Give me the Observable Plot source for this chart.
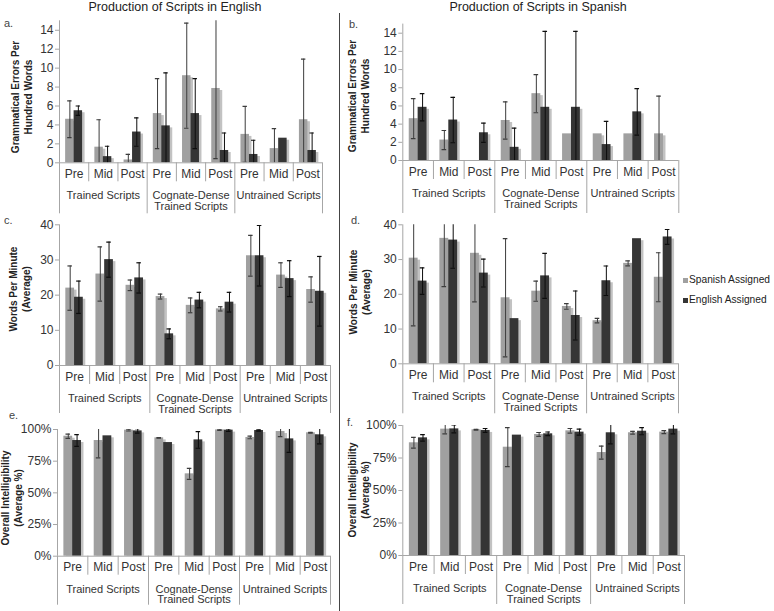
<!DOCTYPE html>
<html>
<head>
<meta charset="utf-8">
<script src="https://cdn.jsdelivr.net/npm/d3@7"></script>
<script src="https://cdn.jsdelivr.net/npm/@observablehq/plot@0.6"></script>
<style>
  html, body { margin: 0; padding: 0; background: #fff; }
  #root { position: relative; width: 774px; height: 611px; overflow: hidden;
          font-family: "Liberation Sans", Arial, sans-serif; color: #333; }
  .pan { position: absolute; }
  .ytitle { position: absolute; font-weight: bold; font-size: 10px; line-height: 13px;
            text-align: center; white-space: nowrap; color: #222;
            transform: translate(-50%, -50%) rotate(-90deg); }
  .title { position: absolute; font-size: 12.5px; color: #222; white-space: nowrap;
           transform: translate(-50%, -50%); }
  .letter { position: absolute; font-size: 11px; color: #444; }
  .leg { position: absolute; font-size: 10.2px; color: #222; white-space: nowrap; }
  .sw { position: absolute; width: 5px; height: 5px; }
  .divider { position: absolute; left: 339px; top: 13px; width: 1px; height: 598px; background: #444; }
</style>
</head>
<body>
<div id="root"></div>
<script>
// ---------- data ----------
const categories = ["Pre", "Mid", "Post", "Pre", "Mid", "Post", "Pre", "Mid", "Post"];
const groups = ["Trained Scripts", "Cognate-Dense\nTrained Scripts", "Untrained Scripts"];
const series = ["Spanish Assigned", "English Assigned"];
const titles = ["Production of Scripts in English", "Production of Scripts in Spanish"];

// a. Grammatical errors, English production
const aSpanish    = [4.6, 1.65, 0.3, 5.2, 9.2, 7.85, 3.0, 1.5, 4.55];
const aSpanishErr = [1.95, 2.9, 0.6, 3.7, 5.55, 7.4, 2.95, 2.1, 6.4];
const aEnglish    = [5.5, 0.65, 3.25, 3.9, 5.2, 1.3, 0.88, 2.6, 1.3];
const aEnglishErr = [0.5, 1.1, 1.5, 5.6, 3.7, 1.85, 1.5, 0, 1.85];
// b. Grammatical errors, Spanish production
const bSpanish    = [4.6, 2.25, 0, 4.4, 7.35, 2.93, 2.93, 2.93, 2.93];
const bSpanishErr = [2.2, 1.05, 0, 2.05, 2.1, 0, 0, 0, 4.15];
const bEnglish    = [5.85, 4.45, 3.05, 1.45, 5.85, 5.85, 1.75, 5.35, 0];
const bEnglishErr = [1.5, 2.5, 1.05, 2.1, 8.35, 8.35, 2.55, 2.55, 0];
// c. Words per minute, English production
const cSpanish    = [22.0, 26.0, 22.8, 19.6, 17.1, 16.1, 31.2, 25.7, 21.6];
const cSpanishErr = [6.3, 7.7, 1.5, 0.7, 2.1, 0.6, 5.8, 3.5, 3.6];
const cEnglish    = [19.4, 30.1, 24.9, 9.0, 18.6, 18.0, 31.2, 24.7, 21.1];
const cEnglishErr = [4.6, 5.0, 4.3, 1.4, 2.2, 2.8, 8.6, 5.1, 9.9];
// d. Words per minute, Spanish production
const dSpanish    = [30.4, 36.1, 31.8, 19.0, 20.9, 16.5, 12.4, 28.9, 24.9];
const dSpanishErr = [19.5, 13.9, 14.0, 17.0, 2.9, 0.8, 0.65, 0.7, 7.05];
const dEnglish    = [23.8, 35.6, 26.1, 13.0, 25.3, 13.9, 23.9, 36.0, 36.5];
const dEnglishErr = [3.8, 8.1, 4.0, 0, 6.45, 7.05, 4.25, 0, 2.15];
// e. Intelligibility, English production
const eSpanish    = [0.947, 0.913, 0.995, 0.934, 0.65, 0.997, 0.937, 0.984, 0.974];
const eSpanishErr = [0.017, 0.137, 0.007, 0.002, 0.043, 0.005, 0.01, 0.04, 0.003];
const eEnglish    = [0.913, 0.95, 0.989, 0.897, 0.918, 0.995, 0.992, 0.926, 0.958];
const eEnglishErr = [0.046, 0, 0.017, 0, 0.066, 0.01, 0.005, 0.106, 0.071];
// f. Intelligibility, Spanish production
const fSpanish    = [0.867, 0.972, 0.967, 0.833, 0.931, 0.959, 0.792, 0.944, 0.949];
const fSpanishErr = [0.041, 0.036, 0.003, 0.15, 0.015, 0.018, 0.05, 0.011, 0.011];
const fEnglish    = [0.905, 0.974, 0.962, 0.926, 0.936, 0.949, 0.944, 0.956, 0.972];
const fEnglishErr = [0.025, 0.03, 0.015, 0, 0.014, 0.023, 0.085, 0.027, 0.036];

const errTicks = [0, 2, 4, 6, 8, 10, 12, 14];
const wpmTicks = [0, 10, 20, 30, 40];
const pctTicks = [0, 0.25, 0.5, 0.75, 1];
const yTitles = {
  err: "Grammatical Errors Per\nHundred Words",
  wpm: "Words Per Minute\n(Average)",
  pct: "Overall Intelligibility\n(Average %)"
};

// ---------- style ----------
const COL_S = "#a0a0a0", COL_E = "#353535", SHADOW = "#c2c2c2";
const AXIS = "#a6a6a6", TXT = "#333";
const W = 0.29;      // bar width (fraction of a category slot)
const CAP = 0.075;   // half width of error caps

const root = document.getElementById("root");

function panel(p) {
  const rows = categories.map((c, i) => ({
    i, c, s: p.S[i], se: p.Se[i], e: p.E[i], ee: p.Ee[i]
  }));
  const errs = [];
  rows.forEach(r => {
    if (r.se > 0) errs.push({x: r.i + 0.5 - W / 2, v: r.s, err: r.se, col: "#3c3c3c"});
    if (r.ee > 0) errs.push({x: r.i + 0.5 + W / 2, v: r.e, err: r.ee, col: "#0d0d0d"});
  });
  const seps = d3.range(10);
  const chart = Plot.plot({
    width: p.width, height: p.height,
    marginLeft: p.mL, marginRight: p.mR, marginTop: p.mT, marginBottom: p.mB,
    x: {domain: [0, 9], axis: null},
    y: {domain: [0, p.yMax], axis: null},
    style: {fontFamily: "'Liberation Sans', Arial, sans-serif", background: "transparent", overflow: "visible"},
    marks: [
      // shadows
      Plot.rectY(rows, {x1: d => d.i + 0.5 - W, x2: d => d.i + 0.5, y1: 0, y2: "s", dx: 2.5, insetTop: 2, fill: SHADOW}),
      Plot.rectY(rows, {x1: d => d.i + 0.5 - W, x2: d => d.i + 0.5, y1: 0, y2: "s", fill: COL_S}),
      Plot.rectY(rows, {x1: d => d.i + 0.5, x2: d => d.i + 0.5 + W, y1: 0, y2: "e", dx: 2.5, insetTop: 2, fill: SHADOW}),
      Plot.rectY(rows, {x1: d => d.i + 0.5, x2: d => d.i + 0.5 + W, y1: 0, y2: "e", fill: COL_E}),
      // error bars
      Plot.ruleX(errs, {x: "x", y1: d => d.v - d.err, y2: d => d.v + d.err, stroke: "col", strokeWidth: 1, clip: true}),
      Plot.ruleY(errs, {x1: d => d.x - CAP, x2: d => d.x + CAP, y: d => d.v + d.err, stroke: "col", strokeWidth: 1.2, clip: true}),
      Plot.ruleY(errs, {x1: d => d.x - CAP, x2: d => d.x + CAP, y: d => d.v - d.err, stroke: "col", strokeWidth: 1.2, clip: true}),
      // axes
      Plot.ruleX([0], {stroke: AXIS}),
      Plot.ruleY([0], {stroke: AXIS}),
      Plot.ruleX(seps.filter(d => d % 3 !== 0), {x: d => d, y1: 0, y2: 0, insetBottom: -19, stroke: AXIS}),
      Plot.ruleX(seps.filter(d => d % 3 === 0), {x: d => d, y1: 0, y2: 0, insetBottom: -p.sepLen, stroke: AXIS}),
      Plot.axisY({ticks: p.ticks, tickFormat: p.fmt, tickSize: 4, tickPadding: 2, fontSize: 12,
                  stroke: AXIS, fill: TXT, label: null}),
      Plot.text(rows, {x: d => d.i + 0.5, frameAnchor: "bottom", dy: 15, text: "c", fontSize: 12, fill: TXT}),
      Plot.text(groups, {x: (d, i) => 3 * i + 1.5, frameAnchor: "bottom", dy: 28.5, lineAnchor: "top",
                         text: d => d, fontSize: 11, lineHeight: 1.0, fill: TXT})
    ]
  });
  const wrap = document.createElement("div");
  wrap.className = "pan";
  wrap.style.left = p.left + "px";
  wrap.style.top = p.top + "px";
  wrap.appendChild(chart);
  root.appendChild(wrap);
}

const fmtNum = d3.format("d");
const fmtPct = d3.format(".0%");

panel({left: 0, top: 0, width: 338, height: 215, mL: 59, mR: 16, mT: 20.3, mB: 52.7, sepLen: 51,
       yMax: 15, ticks: errTicks, fmt: fmtNum, S: aSpanish, Se: aSpanishErr, E: aEnglish, Ee: aEnglishErr});
panel({left: 340, top: 0, width: 434, height: 215, mL: 62.3, mR: 95.7, mT: 23.6, mB: 55, sepLen: 53,
       yMax: 15, ticks: errTicks, fmt: fmtNum, S: bSpanish, Se: bSpanishErr, E: bEnglish, Ee: bEnglishErr});
panel({left: 0, top: 212, width: 338, height: 200, mL: 59, mR: 8, mT: 12.3, mB: 47, sepLen: 48,
       yMax: 40, ticks: wpmTicks, fmt: fmtNum, S: cSpanish, Se: cSpanishErr, E: cEnglish, Ee: cEnglishErr});
panel({left: 340, top: 212, width: 434, height: 200, mL: 62.3, mR: 96, mT: 12.3, mB: 48.7, sepLen: 50,
       yMax: 40, ticks: wpmTicks, fmt: fmtNum, S: dSpanish, Se: dSpanishErr, E: dEnglish, Ee: dEnglishErr});
panel({left: 0, top: 415, width: 338, height: 196, mL: 57, mR: 8, mT: 14, mB: 55.3, sepLen: 49,
       yMax: 1, ticks: pctTicks, fmt: fmtPct, S: eSpanish, Se: eSpanishErr, E: eEnglish, Ee: eEnglishErr});
panel({left: 340, top: 415, width: 434, height: 196, mL: 62.3, mR: 90, mT: 10, mB: 56, sepLen: 49,
       yMax: 1, ticks: pctTicks, fmt: fmtPct, S: fSpanish, Se: fSpanishErr, E: fEnglish, Ee: fEnglishErr});

// ---------- annotations ----------
function add(cls, text, x, y, extra) {
  const el = document.createElement("div");
  el.className = cls;
  el.textContent = text;
  el.style.left = x + "px";
  el.style.top = y + "px";
  if (extra) Object.assign(el.style, extra);
  root.appendChild(el);
  return el;
}
const div = document.createElement("div");
div.className = "divider";
root.appendChild(div);

add("title", titles[0], 175, 7);
add("title", titles[1], 538, 7);

add("letter", "a.", 4, 17);
add("letter", "b.", 349, 18);
add("letter", "c.", 4, 214);
add("letter", "d.", 351, 214);
add("letter", "e.", 9, 409);
add("letter", "f.", 347, 416);

function ytitle(text, x, y) {
  const el = add("ytitle", "", x, y);
  text.split("\n").forEach((t, k) => {
    if (k) el.appendChild(document.createElement("br"));
    el.appendChild(document.createTextNode(t));
  });
}
ytitle(yTitles.err, 21.5, 97);
ytitle(yTitles.err, 359, 96);
ytitle(yTitles.wpm, 20, 289);
ytitle(yTitles.wpm, 360, 292);
ytitle(yTitles.pct, 12, 498);
ytitle(yTitles.pct, 359, 490);

// legend (panel d)
const lg = [COL_S, COL_E];
series.forEach((s, k) => {
  const sw = document.createElement("div");
  sw.className = "sw";
  sw.style.left = "683px";
  sw.style.top = (278 + 20 * k) + "px";
  sw.style.background = lg[k];
  root.appendChild(sw);
  add("leg", s, 689, 274 + 20 * k);
});
</script>
</body>
</html>
